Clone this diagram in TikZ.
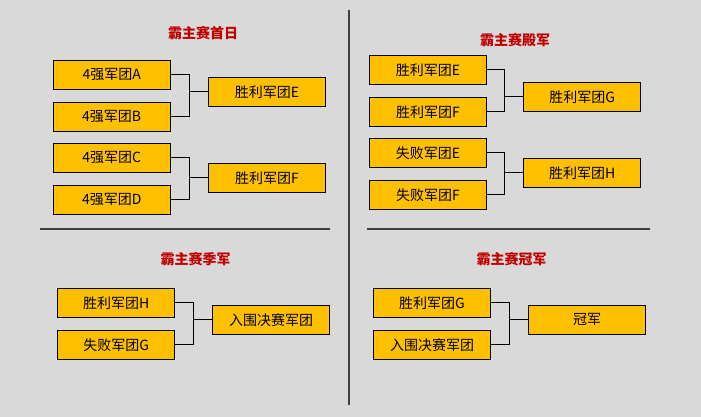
\documentclass[tikz,border=0pt]{standalone}
\usepackage{fontspec}
\setmainfont{Noto Sans CJK SC}
\definecolor{bggray}{HTML}{D9D9D9}
\definecolor{teamgold}{HTML}{FFC000}
\definecolor{titlered}{HTML}{C00000}
\tikzset{
  team/.style={draw=black, line width=1.2pt, fill=teamgold, minimum width=117pt,
    minimum height=29pt, inner sep=0pt, font=\fontsize{14}{16}\selectfont},
  stagetitle/.style={text=titlered, font=\bfseries\fontsize{14}{16}\selectfont},
  link/.style={draw=black, line width=1pt},
  divider/.style={draw=black!75, line width=1.5pt}
}
\begin{document}
\begin{tikzpicture}[x=1pt, y=-1pt]
  \fill[bggray] (0,0) rectangle (701,417);
  \useasboundingbox (0,0) rectangle (701,417);

  % Trennlinien
  \draw[divider] (349,10) -- (349,405);
  \draw[divider] (40,229) -- (330,229);
  \draw[divider] (367,229) -- (650,229);

  % Erster Tag
  \node[stagetitle] (t1) at (203,33) {霸主赛首日};
  \node[team] (a) at (111.7,74.8) {4强军团A};
  \node[team] (b) at (111.7,116.8) {4强军团B};
  \node[team] (c) at (111.7,157.8) {4强军团C};
  \node[team] (d) at (111.7,199.8) {4强军团D};
  \node[team] (e) at (267,91.8) {胜利军团E};
  \node[team] (f) at (267,177.8) {胜利军团F};
  \coordinate (jab) at (189.3,91.8);
  \coordinate (jcd) at (189.3,177.8);
  \draw[link] (a.east) -| (jab) |- (b.east);
  \draw[link] (jab) -- (e.west);
  \draw[link] (c.east) -| (jcd) |- (d.east);
  \draw[link] (jcd) -- (f.west);

  % Vierter Platz
  \node[stagetitle] (t2) at (515,40.5) {霸主赛殿军};
  \node[team] (we) at (428,69.8) {胜利军团E};
  \node[team] (wf) at (428,111.8) {胜利军团F};
  \node[team] (le) at (428,152.8) {失败军团E};
  \node[team] (lf) at (428,194.8) {失败军团F};
  \node[team] (g) at (582.2,96.8) {胜利军团G};
  \node[team] (h) at (582.2,172.8) {胜利军团H};
  \coordinate (jw) at (504.3,96.8);
  \coordinate (jl) at (504.3,172.8);
  \draw[link] (we.east) -| (jw) |- (wf.east);
  \draw[link] (jw) -- (g.west);
  \draw[link] (le.east) -| (jl) |- (lf.east);
  \draw[link] (jl) -- (h.west);

  % Dritter Platz
  \node[stagetitle] (t3) at (195.7,259.3) {霸主赛季军};
  \node[team] (wh) at (116.3,302.8) {胜利军团H};
  \node[team] (lg) at (116.3,344.8) {失败军团G};
  \node[team] (fin) at (271,319.8) {入围决赛军团};
  \coordinate (jthird) at (193.3,319.8);
  \draw[link] (wh.east) -| (jthird) |- (lg.east);
  \draw[link] (jthird) -- (fin.west);

  % Finale
  \node[stagetitle] (t4) at (511.7,259.3) {霸主赛冠军};
  \node[team] (wg) at (432,302.8) {胜利军团G};
  \node[team] (fin2) at (432,344.7) {入围决赛军团};
  \node[team] (champ) at (587,319.8) {冠军};
  \coordinate (jfinal) at (509.3,319.8);
  \draw[link] (wg.east) -| (jfinal) |- (fin2.east);
  \draw[link] (jfinal) -- (champ.west);
\end{tikzpicture}
\end{document}
